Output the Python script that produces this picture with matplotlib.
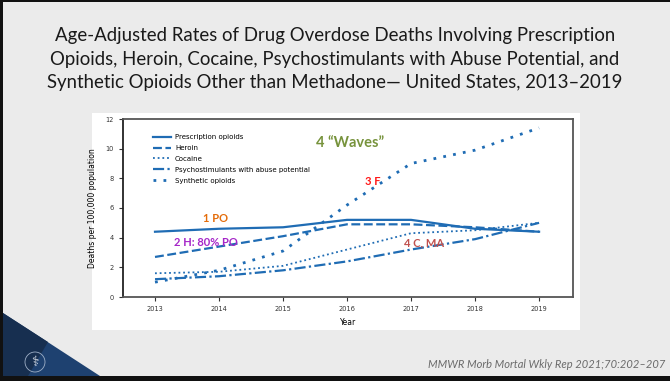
import matplotlib.pyplot as plt
from matplotlib.patches import Rectangle, Polygon, Circle
from matplotlib.lines import Line2D

# data
years = [2013, 2014, 2015, 2016, 2017, 2018, 2019]
prescription = [4.4, 4.6, 4.7, 5.2, 5.2, 4.6, 4.4]
heroin = [2.7, 3.4, 4.1, 4.9, 4.9, 4.7, 4.4]
cocaine = [1.6, 1.7, 2.1, 3.2, 4.3, 4.5, 5.0]
psycho = [1.2, 1.4, 1.8, 2.4, 3.2, 3.9, 5.0]
synthetic = [1.0, 1.8, 3.1, 6.2, 9.0, 9.9, 11.4]
labels = ["Prescription opioids", "Heroin", "Cocaine",
          "Psychostimulants with abuse potential", "Synthetic opioids"]

title = ("Age-Adjusted Rates of Drug Overdose Deaths Involving Prescription\n"
         "Opioids, Heroin, Cocaine, Psychostimulants with Abuse Potential, and\n"
         "Synthetic Opioids Other than Methadone\u2014 United States, 2013\u20132019")
source = "MMWR Morb Mortal Wkly Rep 2021;70:202\u2013207"

W, H = 670, 381
fig = plt.figure(figsize=(6.7, 3.81), dpi=100)
fig.patch.set_facecolor("#ebebeb")

def fx(px):
    return px / W

def fy(py):
    return 1 - py / H

# slide border
fig.add_artist(Rectangle((0, 0), fx(3), 1, transform=fig.transFigure, color="#111111", lw=0))
fig.add_artist(Rectangle((0, fy(2)), 1, 2 / H, transform=fig.transFigure, color="#111111", lw=0))
fig.add_artist(Rectangle((0, 0), 1, 5 / H, transform=fig.transFigure, color="#111111", lw=0))

# corner triangle + logo
fig.add_artist(Polygon([(fx(3), fy(313)), (fx(100), fy(376)), (fx(3), fy(376))],
                       closed=True, transform=fig.transFigure, color="#1e4170", lw=0))
fig.add_artist(Polygon([(fx(3), fy(313)), (fx(48), fy(342)), (fx(28), fy(376)), (fx(3), fy(376))],
                       closed=True, transform=fig.transFigure, color="#172f50", lw=0))
fig.add_artist(Circle((0.35, (H - 362) / 100), 0.1, transform=fig.dpi_scale_trans,
                      fill=False, ec="#9fb0c8", lw=0.6))
fig.text(fx(35), fy(362), "\u2695", color="#d8dee8", fontsize=10,
         ha="center", va="center", family="DejaVu Sans")

# title
fig.text(0.5, fy(59), title, ha="center", va="center", fontsize=13.4,
         family=["Lato", "DejaVu Sans"], color="#1a1a1a", linespacing=1.43)

# source
fig.text(fx(665), fy(365), source, ha="right", va="center", fontsize=8.0,
         family=["Lato", "DejaVu Sans"], style="italic", color="#6b6b6b")

# white chart panel
fig.add_artist(Rectangle((fx(92), fy(330)), 488 / W, 217 / H, transform=fig.transFigure,
                         color="white", lw=0, zorder=-5))

ax = fig.add_axes([fx(123), fy(297), 450 / W, 178 / H])
blue = "#1f6cb4"
ax.plot(years, prescription, color=blue, lw=1.6, ls="-")
ax.plot(years, heroin, color=blue, lw=1.6, ls=(0, (4, 1.6)))
ax.plot(years, cocaine, color=blue, lw=1.3, ls=(0, (1, 1.6)))
ax.plot(years, psycho, color=blue, lw=1.6, ls=(0, (5, 1.5, 1, 1.5)))
ax.plot(years, synthetic, color=blue, lw=2.0, ls=(0, (1, 2.6)))

ax.set_xlim(2012.5, 2019.53)
ax.set_ylim(0, 12)
ax.set_xticks(years)
ax.set_yticks(range(0, 13, 2))
small = ["Liberation Sans Narrow", "DejaVu Sans"]
ax.tick_params(labelsize=4.8, length=3, width=0.8, colors="#333333")
for t in ax.get_xticklabels() + ax.get_yticklabels():
    t.set_family(small)
ax.set_xlabel("Year", fontsize=5.5, family=small, labelpad=4)
ax.set_ylabel("Deaths per 100,000 population", fontsize=5.5, family=small, labelpad=6)
for s in ax.spines.values():
    s.set_color("#555555")
    s.set_linewidth(1.3)
ax.spines["left"].set_color("#222222")

handles = [
    Line2D([], [], color=blue, lw=1.6, ls="-"),
    Line2D([], [], color=blue, lw=1.6, ls=(0, (4, 1.6))),
    Line2D([], [], color=blue, lw=1.3, ls=(0, (1, 1.6))),
    Line2D([], [], color=blue, lw=1.6, ls=(0, (5, 1.5, 1, 1.5))),
    Line2D([], [], color=blue, lw=2.0, ls=(0, (1, 2.6))),
]
ax.legend(handles, labels, loc="upper left", bbox_to_anchor=(0.066, 0.915),
          frameon=False, borderpad=0, borderaxespad=0, handlelength=2.7,
          handletextpad=0.5, labelspacing=0.7, prop={"family": small, "size": 5})

# annotations
ax.text(2016.05, 10.4, "4 \u201cWaves\u201d", color="#77933c", fontsize=10.5,
        fontweight="bold", ha="center", va="center", family=["Lato", "DejaVu Sans"])
ax.text(2016.4, 7.8, "3 F", color="#ff1a1a", fontsize=8, fontweight="bold",
        ha="center", va="center", family=["Lato", "DejaVu Sans"])
ax.text(2013.95, 5.3, "1 PO", color="#e46c0a", fontsize=8, fontweight="bold",
        ha="center", va="center", family=["Lato", "DejaVu Sans"])
ax.text(2013.8, 3.65, "2 H: 80% PO", color="#a526c8", fontsize=8, fontweight="bold",
        ha="center", va="center", family=["Lato", "DejaVu Sans"])
ax.text(2017.2, 3.65, "4 C, MA", color="#c0504d", fontsize=8, fontweight="bold",
        ha="center", va="center", family=["Lato", "DejaVu Sans"])

fig.savefig("out.png", dpi=100, facecolor=fig.get_facecolor())
